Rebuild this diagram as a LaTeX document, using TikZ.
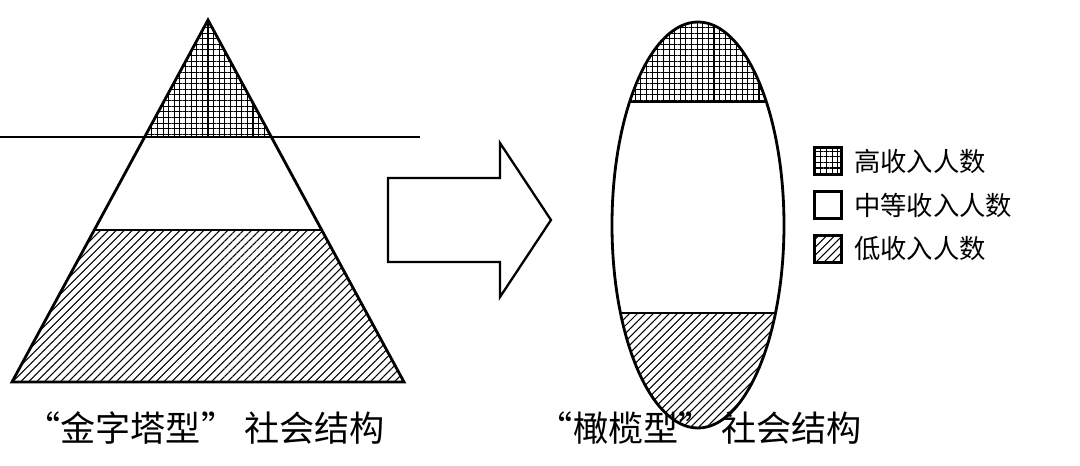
\documentclass[tikz,border=0pt]{standalone}
\usepackage{fontspec}
\newfontfamily\cjk{Noto Sans CJK SC}
\usetikzlibrary{patterns.meta}
\tikzset{
  outline/.style={draw=black, line width=1.6pt},
  lowfill/.style={pattern={Lines[angle=45,distance=3.2pt,line width=0.6pt]}},
  rowsfill/.style={pattern={Lines[angle=0,distance=3.2pt,line width=0.6pt]}},
  colsfill/.style={pattern={Lines[angle=90,distance=3.2pt,line width=0.6pt]}},
  keybox/.style={draw=black, line width=1.2pt, minimum size=0.54cm, inner sep=0pt},
  keytext/.style={font=\cjk\fontsize{15}{15}\selectfont, anchor=west},
  caption/.style={font=\cjk\fontsize{20}{20}\selectfont}
}
\begin{document}
\begin{tikzpicture}[x=0.02cm, y=-0.02cm]
	\useasboundingbox (0,0) rectangle (1080,466);
	% pyramid
	\begin{scope}
		\clip (208,20) -- (12,382) -- (404,382) -- cycle;
		\fill[rowsfill] (0,0) rectangle (420,137);
		\fill[colsfill] (0,0) rectangle (420,137);
		\fill[lowfill] (0,230) rectangle (420,390);
	\end{scope}
	\draw[outline] (0,137) -- (420,137);
	\draw[outline, line join=miter] (208,20) -- (12,382) -- (404,382) -- cycle;
	\begin{scope}
		\clip (208,20) -- (12,382) -- (404,382) -- cycle;
		\draw[outline] (0,137) -- (420,137);
		\draw[outline] (0,230) -- (420,230);
	\end{scope}
	% arrow
	\draw[line width=1.3pt, line join=miter] (388,178) -- (500,178) -- (500,143) -- (551,220)
		-- (500,297) -- (500,262) -- (388,262) -- cycle;
	% olive
	\begin{scope}
		\clip (698,225) ellipse [x radius=86, y radius=203];
		\fill[rowsfill] (600,0) rectangle (800,102);
		\fill[colsfill] (600,0) rectangle (800,102);
		\fill[lowfill] (600,313) rectangle (800,440);
		\draw[outline] (600,102) -- (800,102);
		\draw[outline] (600,313) -- (800,313);
	\end{scope}
	\draw[outline] (698,225) ellipse [x radius=86, y radius=203];
	% legend
	\node[keybox] (khigh) at (828,161) {};
	\fill[rowsfill] (khigh.south west) rectangle (khigh.north east);
	\fill[colsfill] (khigh.south west) rectangle (khigh.north east);
	\node[keybox] (khigh) at (828,161) {};
	\node[keybox] (kmid) at (828,205) {};
	\node[keybox] (klow) at (828,249) {};
	\fill[lowfill] (klow.south west) rectangle (klow.north east);
	\node[keybox] (klow) at (828,249) {};
	\node[keytext] at (848,161) {高收入人数};
	\node[keytext] at (848,205) {中等收入人数};
	\node[keytext] at (848,249) {低收入人数};
	% captions
	\node[caption] (cappyr) at (205,428) {“金字塔型” 社会结构};
	\node[caption] (capolive) at (700,428) {“橄榄型” 社会结构};
\end{tikzpicture}
\end{document}
